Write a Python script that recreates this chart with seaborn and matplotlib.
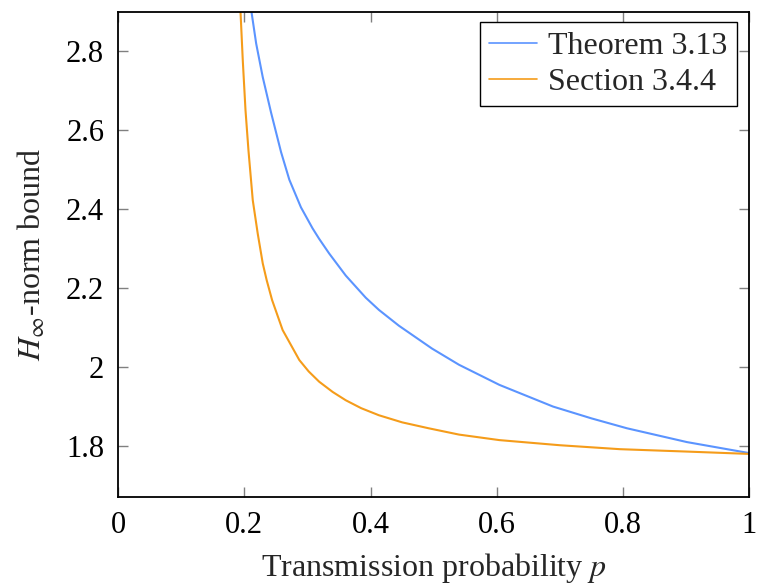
import matplotlib
matplotlib.use("Agg")
import matplotlib.pyplot as plt
import pandas as pd
import seaborn as sns

# values
thm_p = [0.2114, 0.2188, 0.2292, 0.2424, 0.2582, 0.2713, 0.2897, 0.308, 0.3186,
         0.3344, 0.3607, 0.3923, 0.4132, 0.4448, 0.4973, 0.540, 0.604, 0.689,
         0.750, 0.806, 0.901, 1.0]
thm_h = [2.90, 2.82, 2.735, 2.645, 2.545, 2.475, 2.405, 2.352, 2.325,
         2.288, 2.232, 2.176, 2.145, 2.105, 2.047, 2.006, 1.955, 1.900,
         1.870, 1.845, 1.810, 1.782]

sec_p = [0.194, 0.1976, 0.2019, 0.2066, 0.2134, 0.2213, 0.2292, 0.2355, 0.2440,
         0.2607, 0.2871, 0.3020, 0.3186, 0.340, 0.3607, 0.3850, 0.4132, 0.450,
         0.492, 0.540, 0.604, 0.700, 0.795, 0.900, 1.0]
sec_h = [2.90, 2.777, 2.651, 2.549, 2.423, 2.338, 2.263, 2.220, 2.170,
         2.094, 2.018, 1.989, 1.963, 1.937, 1.916, 1.896, 1.878, 1.860,
         1.845, 1.829, 1.815, 1.802, 1.792, 1.786, 1.780]

labels = ["Theorem 3.13", "Section 3.4.4"]
colors = ["#5b94ff", "#f59c1a"]

x_ticks = [0, 0.2, 0.4, 0.6, 0.8, 1.0]
x_ticklabels = ["0", "0.2", "0.4", "0.6", "0.8", "1"]
y_ticks = [1.8, 2.0, 2.2, 2.4, 2.6, 2.8]
y_ticklabels = ["1.8", "2", "2.2", "2.4", "2.6", "2.8"]

df = pd.concat([
    pd.DataFrame({"p": thm_p, "h": thm_h, "series": labels[0]}),
    pd.DataFrame({"p": sec_p, "h": sec_h, "series": labels[1]}),
])

sns.set_theme(style="ticks")
plt.rcParams["font.family"] = ["Liberation Serif", "DejaVu Serif"]
plt.rcParams["mathtext.fontset"] = "stix"
plt.rcParams["lines.solid_joinstyle"] = "round"

fig = plt.figure(figsize=(7.58, 5.86), dpi=100)
ax = fig.add_axes([0.1557, 0.152, 0.8330, 0.8275])

sns.lineplot(data=df, x="p", y="h", hue="series", hue_order=labels,
             palette=dict(zip(labels, colors)), linewidth=1.5, ax=ax,
             estimator=None, sort=False)

ax.set_xlim(0, 1)
ax.set_ylim(1.671, 2.9)
ax.set_xticks(x_ticks)
ax.set_xticklabels(x_ticklabels)
ax.set_yticks(y_ticks)
ax.set_yticklabels(y_ticklabels)
ax.tick_params(direction="in", length=7.5, width=1, color="#808080",
               labelsize=22, labelcolor="black", top=True, right=True, pad=10)
for s in ax.spines.values():
    s.set_color("black")
    s.set_linewidth(1.3)

ax.set_xlabel("Transmission probability $p$", fontsize=23, labelpad=8)
ax.set_ylabel(r"$H_{\infty}$-norm bound", fontsize=23, labelpad=13)

leg = ax.legend(loc="upper right", fontsize=23, frameon=True, fancybox=False,
                handlelength=1.5, handletextpad=0.35, borderpad=0.3,
                labelspacing=0.2, borderaxespad=0,
                bbox_to_anchor=(0.981, 0.979))
leg.get_frame().set_edgecolor("black")
leg.get_frame().set_linewidth(1.0)
leg.get_frame().set_alpha(1)
for line in leg.get_lines():
    line.set_linewidth(1.2)

fig.savefig("out.png", dpi=100)
